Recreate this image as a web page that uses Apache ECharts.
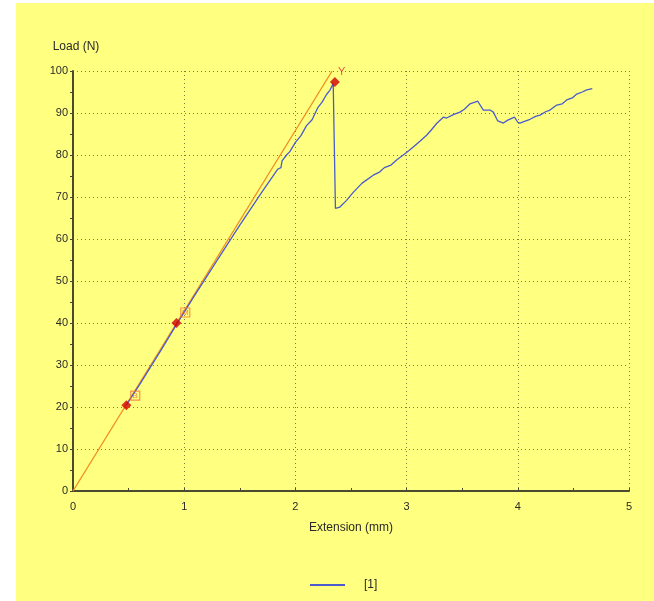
<!DOCTYPE html>
<html>
<head>
<meta charset="utf-8">
<script src="https://cdn.jsdelivr.net/npm/echarts@6/dist/echarts.min.js"></script>
<style>
  html, body { margin: 0; padding: 0; background: #ffffff; }
  #wrap { position: relative; width: 654px; height: 601px; background: #ffffff; }
  #chart { position: absolute; left: 16px; top: 3px; width: 638px; height: 598px; background: #ffff80; }
</style>
</head>
<body>
<div id="wrap"><div id="chart"></div></div>
<script>
// ---- data ----
const xTicks = [0, 1, 2, 3, 4, 5];
const yTicks = [0, 10, 20, 30, 40, 50, 60, 70, 80, 90, 100];

// measured load–extension curve [1]
const curveX = [0.48, 0.60, 0.80, 0.93, 1.10, 1.30, 1.50, 1.70, 1.84, 1.87, 1.88, 1.92, 1.95, 2.00, 2.05, 2.10, 2.15, 2.20, 2.24, 2.28, 2.31, 2.34,
  2.355, 2.36, 2.40, 2.46, 2.52, 2.60, 2.70, 2.76, 2.80, 2.86, 2.91, 3.00, 3.06, 3.12, 3.18, 3.22, 3.27, 3.33, 3.36, 3.42, 3.48,
  3.52, 3.57, 3.64, 3.69, 3.75, 3.78, 3.82, 3.87, 3.91, 3.97, 4.00, 4.02, 4.06, 4.11, 4.16, 4.20, 4.25, 4.29, 4.35, 4.40, 4.44, 4.49, 4.53, 4.58, 4.62, 4.67];
const curveY = [20.5, 25.4, 33.9, 39.6, 46.8, 55.1, 63.3, 71.2, 76.6, 77.0, 78.6, 80.0, 80.8, 83.0, 84.6, 87.0, 88.4, 91.2, 92.6, 94.4, 95.4, 97.0,
  97.2, 67.3, 67.6, 69.2, 71.1, 73.3, 75.2, 76.0, 77.0, 77.6, 78.8, 80.6, 81.9, 83.3, 84.7, 85.9, 87.5, 89.0, 88.8, 89.6, 90.2,
  90.9, 92.2, 92.8, 90.7, 90.7, 90.2, 88.1, 87.6, 88.3, 89.0, 87.8, 87.6, 88.0, 88.5, 89.2, 89.5, 90.3, 90.7, 91.9, 92.2, 93.1, 93.6, 94.5, 95.0, 95.5, 95.8];

// modulus fit line
const fitX = [0, 2.33];
const fitY = [0, 100];

// key points (red diamonds)
const keyX = [0.48, 0.93, 2.355];
const keyY = [20.4, 40.0, 97.4];
const keyLabels = ['', '', 'Y'];

// boxed markers
const boxX = [0.56, 1.01];
const boxY = [22.7, 42.5];
const boxLabels = ['B', 'M'];

const seriesName = '[1]';

// ---- build ----
const curve = curveX.map((x, i) => [x, curveY[i]]);
const fit = fitX.map((x, i) => [x, fitY[i]]);
const keys = keyX.map((x, i) => ({ value: [x, keyY[i]], label: keyLabels[i] }));
const boxes = boxX.map((x, i) => ({ value: [x, boxY[i]], label: boxLabels[i] }));

const axisColor = '#4a4a30';
const gridColor = '#7d7d48';
const textColor = '#2a2a2a';
const font = 'Liberation Sans, Arial, sans-serif';

const chart = echarts.init(document.getElementById('chart'), null, { renderer: 'canvas' });
chart.setOption({
  backgroundColor: '#ffff80',
  animation: false,
  textStyle: { fontFamily: font },
  grid: { left: 57, right: 25, top: 68, bottom: 110, containLabel: false },
  legend: {
    left: 289, top: 571,
    itemWidth: 35, itemHeight: 10,
    data: [{ name: seriesName, icon: 'path://M0,4 L35,4 L35,6 L0,6 Z' }],
    textStyle: { color: textColor, fontSize: 12, fontFamily: font, padding: [0, 0, 0, 14] }
  },
  xAxis: {
    type: 'value', min: 0, max: 5, interval: 1,
    name: 'Extension (mm)', nameLocation: 'middle', nameGap: 31,
    nameTextStyle: { color: textColor, fontSize: 12, fontFamily: font },
    axisLine: { show: true, lineStyle: { color: axisColor, width: 2 } },
    axisTick: { show: true, length: 3, inside: true, lineStyle: { color: axisColor } },
    minorTick: { show: true, splitNumber: 2, length: 3, lineStyle: { color: axisColor } },
    axisLabel: { color: textColor, fontSize: 11, margin: 10, fontFamily: font,
      formatter: v => xTicks.includes(v) ? String(v) : '' },
    splitLine: { show: true, lineStyle: { color: gridColor, type: [1, 3], width: 1 } }
  },
  yAxis: {
    type: 'value', min: 0, max: 100, interval: 10,
    name: 'Load (N)', nameLocation: 'end', nameGap: 18,
    nameTextStyle: { color: textColor, fontSize: 12, fontFamily: font, align: 'center', padding: [0, 0, 0, 6] },
    axisLine: { show: true, lineStyle: { color: axisColor, width: 2 } },
    axisTick: { show: true, length: 3, lineStyle: { color: axisColor } },
    minorTick: { show: true, splitNumber: 2, length: 3, lineStyle: { color: axisColor } },
    axisLabel: { color: textColor, fontSize: 11, margin: 5, fontFamily: font,
      formatter: v => yTicks.includes(v) ? String(v) : '' },
    splitLine: { show: true, lineStyle: { color: gridColor, type: [1, 3], width: 1 } }
  },
  series: [
    {
      name: 'fit', type: 'line', data: fit, showSymbol: false, silent: true,
      lineStyle: { color: '#f28a1e', width: 1.3 }, z: 3
    },
    {
      name: seriesName, type: 'line', data: curve, showSymbol: false,
      lineStyle: { color: '#4a5ccc', width: 1.3 }, itemStyle: { color: '#4a5ccc' }, z: 4
    },
    {
      name: 'boxes', type: 'scatter', data: boxes, symbol: 'rect', symbolSize: 9, silent: true,
      itemStyle: { color: 'rgba(0,0,0,0)', borderColor: '#f07a3a', borderWidth: 1.2 },
      label: { show: true, position: 'inside', formatter: p => p.data.label, color: '#e86a3a', fontSize: 8, fontFamily: font },
      z: 5
    },
    {
      name: 'keys', type: 'scatter', data: keys, symbol: 'diamond', symbolSize: 10, silent: true,
      itemStyle: { color: '#d10000' },
      label: { show: true, position: [8, -10], formatter: p => p.data.label, color: '#e23030', fontSize: 11, fontFamily: font },
      z: 6
    }
  ]
});
</script>
</body>
</html>
